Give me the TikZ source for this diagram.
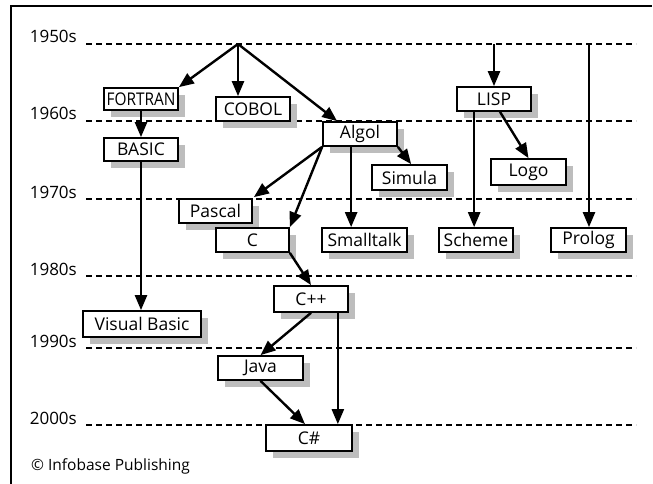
\documentclass[tikz,border=0pt]{standalone}
\usepackage{fontspec}
\setmainfont{Open Sans}
\usetikzlibrary{arrows.meta,shadows,calc}
\definecolor{shadowgray}{HTML}{BDBDBD}
\tikzset{
  lang/.style={draw=black, line width=1.7pt, fill=white, minimum height=24pt, minimum width=74pt,
    inner sep=0pt, font=\fontsize{17.5}{20}\selectfont,
    drop shadow={shadow xshift=7pt, shadow yshift=-7pt, fill=shadowgray, opacity=1}},
  conn/.style={line width=2.4pt, -{Triangle[length=15pt,width=12pt]}},
  decade/.style={dashed, line width=2pt, dash pattern=on 6pt off 4pt},
  declabel/.style={anchor=base east, font=\fontsize{17}{20}\selectfont, inner sep=0pt},
}
\begin{document}
\begin{tikzpicture}[x=1pt,y=-1pt]
\useasboundingbox (0,0) rectangle (653,484);
% frame
\draw[line width=1.6pt] (11,484) -- (11,6) -- (652,6);
% decade lines
\foreach \yy/\lab in {44/1950s,121/1960s,199/1970s,276/1980s,348/1990s,425/2000s}{
  \draw[decade] (86,\yy) -- (636,\yy);
  \node[declabel] (d\lab) at (77,\yy-1) {\lab};
}
% nodes
\node[lang, minimum height=22pt] (fortran) at (141,99) {\scalebox{0.88}[1]{FORTRAN}};
\node[lang] (cobol) at (253,109) {COBOL};
\node[lang, minimum height=23pt] (basic) at (141,149.5) {BASIC};
\node[lang] (algol) at (360,134) {Algol};
\node[lang, minimum width=75pt, minimum height=25pt] (simula) at (409.5,177.5) {Simula};
\node[lang] (lisp) at (494,99) {LISP};
\node[lang, minimum width=75pt, minimum height=26pt] (logo) at (528.5,172) {Logo};
\node[lang, minimum width=73pt] (pascal) at (215.5,211) {Pascal};
\node[lang, minimum width=73pt] (c) at (252.5,240) {C};
\node[lang, minimum width=85pt] (smalltalk) at (364.5,240) {Smalltalk};
\node[lang] (scheme) at (476,240) {Scheme};
\node[lang, minimum width=75pt] (prolog) at (588.5,240) {Prolog};
\node[lang, minimum height=26pt] (cpp) at (311,299) {C++};
\node[lang, minimum width=118pt, minimum height=26pt] (vb) at (142,324) {Visual Basic};
\node[lang, minimum width=85pt] (java) at (260.5,368) {Java};
\node[lang, minimum width=86pt, minimum height=26pt] (cs) at (309,438) {C\#};
% copyright
\node[anchor=west, inner sep=0pt, font=\fontsize{15.5}{18}\selectfont] (copy) at (31,466) {© Infobase Publishing};
% sources
\coordinate (s1) at (238,44);
\coordinate (s2) at (494,44);
\coordinate (s3) at (589,44);
% connectors
\draw[conn] (s1) -- (fortran.north east);
\draw[conn] (s1) -- (s1 |- cobol.north);
\draw[conn] (s1) -- ($(algol.north west)+(15,0)$);
\draw[conn] (s2) -- (lisp.north);
\draw[conn] (s3) -- (s3 |- prolog.north);
\draw[conn] (fortran.south) -- (basic.north);
\draw[conn] (basic.south) -- (basic.south |- vb.north);
\draw[conn] (algol.south west) -- ($(pascal.north east)+(1,-1)$);
\draw[conn] (algol.south west) -- (c.north east);
\coordinate (a1) at ($(algol.south west)+(29,0)$);
\draw[conn] (a1) -- (a1 |- smalltalk.north);
\draw[conn] (algol.south east) -- ($(simula.north west)+(40,0)$);
\coordinate (l1) at ($(lisp.south west)+(18,0)$);
\draw[conn] (l1) -- (l1 |- scheme.north);
\draw[conn] ($(lisp.south)+(6,0)$) -- (logo.north);
\draw[conn] (c.south east) -- (cpp.north);
\draw[conn] (cpp.south) -- (java.north);
\coordinate (p1) at ($(cpp.south east)+(-11,0)$);
\draw[conn] (p1) -- (p1 |- cs.north);
\draw[conn] (java.south) -- ($(cs.north)+(-4,0)$);
\end{tikzpicture}
\end{document}
